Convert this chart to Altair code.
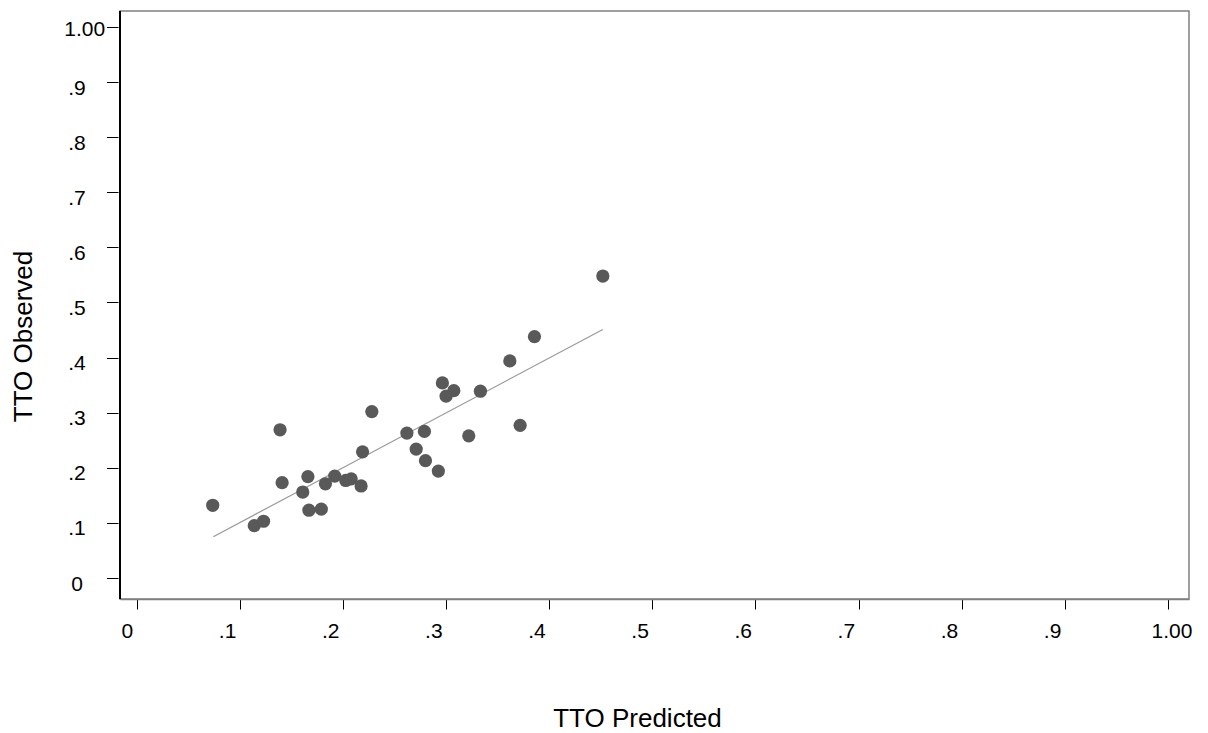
import altair as alt
import pandas as pd

predicted = [0.0737, 0.139, 0.228, 0.219, 0.262, 0.279, 0.271, 0.280, 0.2925, 0.141,
             0.166, 0.161, 0.183, 0.192, 0.2027, 0.208, 0.2176, 0.167, 0.179, 0.114,
             0.123, 0.452, 0.3857, 0.3618, 0.2964, 0.3075, 0.300, 0.3333, 0.322, 0.3718]
observed = [0.132, 0.269, 0.302, 0.229, 0.263, 0.266, 0.234, 0.213, 0.194, 0.173,
            0.184, 0.156, 0.171, 0.185, 0.177, 0.180, 0.167, 0.123, 0.125, 0.095,
            0.103, 0.548, 0.438, 0.394, 0.354, 0.340, 0.330, 0.339, 0.258, 0.277]
fit_x = [0.0743, 0.452]
fit_y = [0.075, 0.451]
tick_values = [0, 0.1, 0.2, 0.3, 0.4, 0.5, 0.6, 0.7, 0.8, 0.9, 1.0]

pts = pd.DataFrame({"pred": predicted, "obs": observed})
fit = pd.DataFrame({"pred": fit_x, "obs": fit_y})

lab = "datum.value == 0 ? '0' : (datum.value >= 1 ? '1.00' : replace(format(datum.value, '.1f'), '0.', '.'))"

xs = alt.Scale(domain=[-0.0162, 1.0204], nice=False, zero=False)
ys = alt.Scale(domain=[-0.0381, 1.029], nice=False, zero=False)

FONT = "Liberation Sans"

xaxis = alt.Axis(values=tick_values, labelExpr=lab, grid=False, tickSize=10, tickColor="black",
                 labelAlign="right", labelBaseline="alphabetic",
                 labelOffset={"condition": {"test": "datum.value >= 1", "value": 24}, "value": -4},
                 labelPadding=28, labelFontSize=21, labelColor="black", labelFont=FONT,
                 labelOverlap=False, labelFlush=False,
                 domainColor="#808080", domainWidth=1.5,
                 title="TTO Predicted", titleFontSize=26, titleFontWeight="normal",
                 titleFont=FONT, titleColor="black",
                 titleX=517, titleY=127, titleBaseline="alphabetic", titleAlign="center")
yaxis = alt.Axis(values=tick_values, labelExpr=lab, grid=False, tickSize=11.5, tickColor="black",
                 offset=2, domain=False,
                 labelAlign="center", labelBaseline="alphabetic",
                 labelOffset={"condition": {"test": "datum.value >= 1", "value": 8.5}, "value": 12},
                 labelPadding={"condition": {"test": "datum.value >= 1", "value": 22.3}, "value": 30},
                 labelFontSize=21, labelColor="black", labelFont=FONT,
                 labelOverlap=False, labelFlush=False,
                 title="TTO Observed", titleFontSize=26, titleFontWeight="normal",
                 titleFont=FONT, titleColor="black",
                 titleX=-86.7, titleY=325, titleBaseline="alphabetic", titleAlign="center", titleAngle=270)

points = alt.Chart(pts).mark_circle(size=175, color="#595959", opacity=1).encode(
    x=alt.X("pred:Q", scale=xs, axis=xaxis),
    y=alt.Y("obs:Q", scale=ys, axis=yaxis),
)
line = alt.Chart(fit).mark_line(color="#9a9a9a", strokeWidth=1.2).encode(
    x=alt.X("pred:Q", scale=xs),
    y=alt.Y("obs:Q", scale=ys),
)
left_edge = alt.Chart(pts).mark_rule(color="black", strokeWidth=1.5).encode(
    x=alt.value(0), y=alt.value(0), y2=alt.value(588)
)

chart = alt.layer(line, points, left_edge).properties(
    width=1069, height=588,
    autosize=alt.AutoSizeParams(type="none"),
    padding={"left": 112, "top": 3, "right": 11, "bottom": 134},
).configure_view(stroke="#808080", strokeWidth=1.5)

chart.save("out.html", embed_options={"renderer": "svg", "actions": False})
